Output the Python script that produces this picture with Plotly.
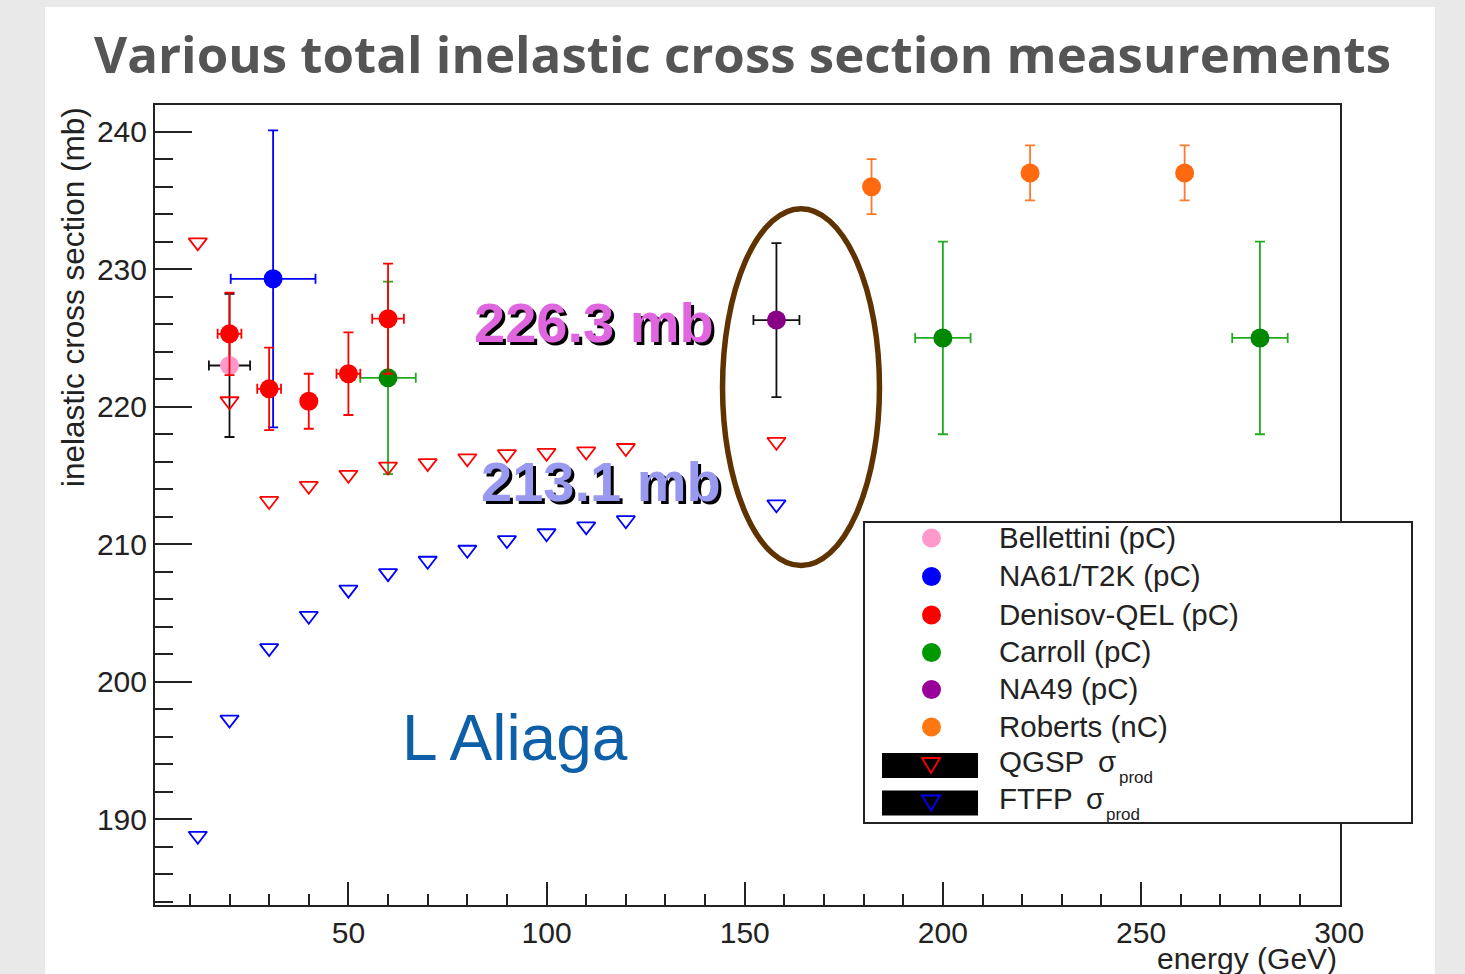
import plotly.graph_objects as go

# ---------------- data ----------------
bell_x = [20]
bell_y = [223.0]
bell_ex = [5.2]
bell_ey = [5.2]

na61_x = [31]
na61_y = [229.3]
na61_ex = [10.7]
na61_ey = [10.8]

den_x = [20, 30, 40, 50, 60]
den_y = [225.3, 221.3, 220.4, 222.4, 226.4]
den_ex = [3, 3, 0, 3, 4]
den_ey = [3.0, 3.0, 2.0, 3.0, 4.0]

car_x = [60, 200, 280]
car_y = [222.1, 225.0, 225.0]
car_ex = [7, 7, 7]
car_ey = [7, 7, 7]

na49_x = [158]
na49_y = [226.3]
na49_ex = [5.8]
na49_ey = [5.6]

rob_x = [182, 222, 261]
rob_y = [236.0, 237.0, 237.0]
rob_ey = [2.0, 2.0, 2.0]

sim_x = [12, 20, 30, 40, 50, 60, 70, 80, 90, 100, 110, 120, 158]
qgsp_y = [231.95, 220.4, 213.15, 214.25, 215.05, 215.65, 215.9, 216.25, 216.55, 216.65, 216.75, 217.0, 217.45]
ftfp_y = [188.8, 197.25, 202.45, 204.8, 206.7, 207.9, 208.8, 209.6, 210.3, 210.8, 211.3, 211.75, 212.9]

legend_labels = ["Bellettini (pC)", "NA61/T2K (pC)", "Denisov-QEL (pC)", "Carroll (pC)",
                 "NA49 (pC)", "Roberts (nC)"]
legend_colors = ["#ff99cc", "#0000ff", "#ff0000", "#009900", "#990099", "#ff7711"]

W, H = 1465, 974
L, R, T, B = 155, 1340, 105, 905


def PX(px):
    return (px - L) / (R - L)


def PY(py):
    return (B - py) / (B - T)


FONT = "Liberation Sans, Arial, Helvetica, sans-serif"
AX = "#222222"

fig = go.Figure()


def add_pts(x, y, ex, ey, mcol, ecol, sym="circle", size=19):
    err_x = dict(type="data", array=ex, color=ecol, thickness=1.8, width=5, visible=True) if ex is not None else None
    fig.add_trace(go.Scatter(
        x=x, y=y, mode="markers",
        marker=dict(color=mcol, size=size, symbol=sym, line=dict(width=0)),
        error_y=dict(type="data", array=ey, color=ecol, thickness=1.8, width=5, visible=True),
        error_x=err_x, showlegend=False, hoverinfo="skip"))


add_pts(bell_x, bell_y, bell_ex, bell_ey, "#ff99cc", "#111111")
add_pts(na61_x, na61_y, na61_ex, na61_ey, "#0000ff", "#0000ff")
add_pts(car_x, car_y, car_ex, car_ey, "#008800", "#22aa22")
add_pts(den_x, den_y, den_ex, den_ey, "#ff0000", "#ff0000")
add_pts(na49_x, na49_y, na49_ex, na49_ey, "#880088", "#111111")
add_pts(rob_x, rob_y, None, rob_ey, "#ff6a10", "#ff7a2a")

fig.add_trace(go.Scatter(x=sim_x, y=qgsp_y, mode="markers",
                         marker=dict(symbol="triangle-down-open", size=16, color="#ff0000",
                                     line=dict(width=1.8, color="#ff0000")),
                         showlegend=False, hoverinfo="skip"))
fig.add_trace(go.Scatter(x=sim_x, y=ftfp_y, mode="markers",
                         marker=dict(symbol="triangle-down-open", size=16, color="#0000ff",
                                     line=dict(width=1.8, color="#0000ff")),
                         showlegend=False, hoverinfo="skip"))

shapes = []
# white slide panel
shapes.append(dict(type="rect", xref="paper", yref="paper", x0=PX(45), x1=PX(1435),
                   y0=PY(1000), y1=PY(7), fillcolor="white", line=dict(width=0), layer="below"))
# brown ellipse
shapes.append(dict(type="circle", xref="x", yref="y", x0=144.4, x1=184.0, y0=208.45, y1=234.4,
                   line=dict(color="#5e3300", width=5.5), layer="above"))
# legend box
shapes.append(dict(type="rect", xref="paper", yref="paper", x0=PX(864), x1=PX(1412),
                   y0=PY(823), y1=PY(522), fillcolor="white", line=dict(color="#222222", width=2)))

rows = [538, 576.5, 615, 652.5, 689.5, 727, 765, 802.5]
annotations = []
LEG_FS = 29.5
for i, (lab, col) in enumerate(zip(legend_labels, legend_colors)):
    yy = rows[i]
    shapes.append(dict(type="circle", xref="paper", yref="paper",
                       x0=PX(931.5 - 9.5), x1=PX(931.5 + 9.5), y0=PY(yy + 9.5), y1=PY(yy - 9.5),
                       fillcolor=col, line=dict(width=0)))
    annotations.append(dict(text=lab, x=PX(997), y=PY(yy - 1), xref="paper", yref="paper",
                            xanchor="left", yanchor="middle", showarrow=False,
                            font=dict(family=FONT, size=LEG_FS, color="#222222")))

sim_rows = [(rows[6], "#ff0000", "QGSP", 1096, 1117, 777), (rows[7], "#0000ff", "FTFP", 1084, 1104, 814)]
for yy, col, lab, sx, px_x, px_y in sim_rows:
    shapes.append(dict(type="rect", xref="paper", yref="paper", x0=PX(882), x1=PX(978),
                       y0=PY(yy + 13), y1=PY(yy - 12), fillcolor="black", line=dict(width=0)))
    path = "M {},{} L {},{} L {},{} Z".format(PX(922), PY(yy - 7), PX(940), PY(yy - 7), PX(931), PY(yy + 8))
    shapes.append(dict(type="path", xref="paper", yref="paper", path=path,
                       line=dict(color=col, width=1.8)))
    annotations.append(dict(text=lab, x=PX(997), y=PY(yy - 4), xref="paper", yref="paper",
                            xanchor="left", yanchor="middle", showarrow=False,
                            font=dict(family=FONT, size=LEG_FS, color="#222222")))
    annotations.append(dict(text="σ", x=PX(sx), y=PY(yy - 4), xref="paper", yref="paper",
                            xanchor="left", yanchor="middle", showarrow=False,
                            font=dict(family=FONT, size=LEG_FS, color="#222222")))
    annotations.append(dict(text="prod", x=PX(px_x), y=PY(px_y), xref="paper", yref="paper",
                            xanchor="left", yanchor="middle", showarrow=False,
                            font=dict(family=FONT, size=17, color="#222222")))

# title
annotations.append(dict(text="<b>Various total inelastic cross section measurements</b>",
                        x=PX(742), y=PY(53), xref="paper", yref="paper",
                        xanchor="center", yanchor="middle", showarrow=False,
                        font=dict(family="Open Sans, Lato, sans-serif", size=51, color="#555555")))
# axis titles
annotations.append(dict(text="inelastic cross section (mb)", x=PX(73), y=PY(105),
                        xref="paper", yref="paper", xanchor="center", yanchor="top",
                        textangle=-90, showarrow=False,
                        font=dict(family=FONT, size=31.5, color="#222222")))
annotations.append(dict(text="energy (GeV)", x=PX(1339), y=PY(959),
                        xref="paper", yref="paper", xanchor="right", yanchor="middle",
                        showarrow=False, font=dict(family=FONT, size=30, color="#222222")))

# value labels with drop shadow
for txt, cx, cy, col in [("226.3 mb", 594, 322, "#e066e0"), ("213.1 mb", 601, 481, "#9999f0")]:
    annotations.append(dict(text="<b>%s</b>" % txt, x=PX(cx), y=PY(cy), xref="paper", yref="paper",
                            xanchor="center", yanchor="middle", showarrow=False, xshift=3, yshift=-3,
                            font=dict(family=FONT, size=56, color="#000000")))
    annotations.append(dict(text="<b>%s</b>" % txt, x=PX(cx), y=PY(cy), xref="paper", yref="paper",
                            xanchor="center", yanchor="middle", showarrow=False,
                            font=dict(family=FONT, size=56, color=col)))

annotations.append(dict(text="L Aliaga", x=PX(515), y=PY(738), xref="paper", yref="paper",
                        xanchor="center", yanchor="middle", showarrow=False,
                        font=dict(family=FONT, size=64, color="#0d5fa8")))

fig.update_layout(
    width=W, height=H, autosize=False,
    margin=dict(l=L, r=W - R, t=T, b=H - B, pad=0),
    paper_bgcolor="#e9e9e9", plot_bgcolor="white",
    shapes=shapes, annotations=annotations, showlegend=False,
    xaxis=dict(range=[1.2, 300.2], showgrid=False, zeroline=False, showline=True,
               linecolor=AX, linewidth=2, mirror=True, ticks="inside", ticklen=23,
               tickwidth=1.5, tickcolor=AX, tick0=0, dtick=50,
               tickfont=dict(family=FONT, size=30, color="#222222"),
               minor=dict(ticks="inside", ticklen=11, dtick=10, tick0=0, tickwidth=1.5, tickcolor=AX)),
    yaxis=dict(range=[183.77, 241.94], showgrid=False, zeroline=False, showline=True,
               linecolor=AX, linewidth=2, mirror=True, ticks="inside", ticklen=37,
               tickwidth=1.5, tickcolor=AX, tick0=0, dtick=10,
               tickfont=dict(family=FONT, size=30, color="#222222"),
               minor=dict(ticks="inside", ticklen=18, dtick=2, tick0=0, tickwidth=1.5, tickcolor=AX)),
)

fig.write_html("out.html")
